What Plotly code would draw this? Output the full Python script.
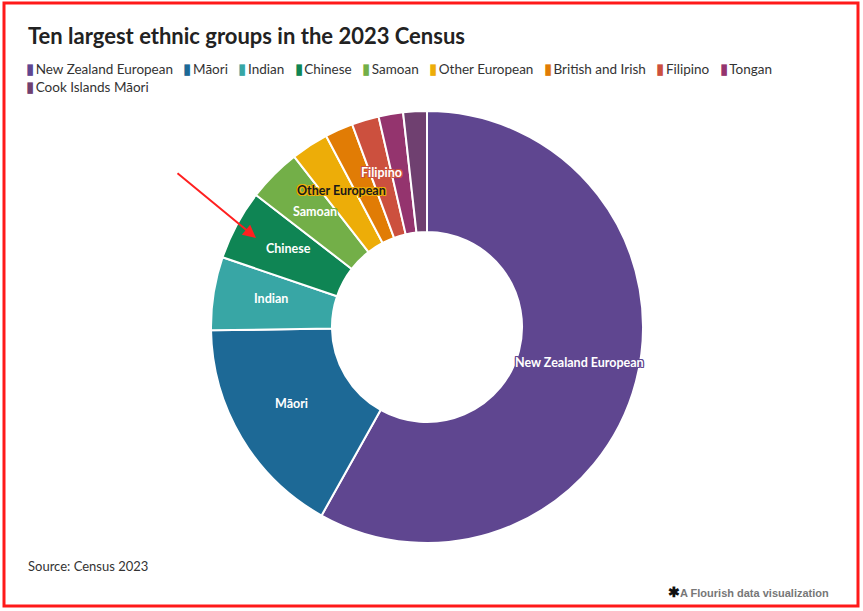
import math
import plotly.graph_objects as go

# ---- data ----
groups = ["New Zealand European", "Māori", "Indian", "Chinese", "Samoan",
          "Other European", "British and Irish", "Filipino", "Tongan", "Cook Islands Māori"]
counts = [3099858, 887493, 292092, 279039, 213069, 150000, 112000, 108297, 97824, 94176]
colors = ["#5F4690", "#1D6996", "#38A6A5", "#0F8554", "#73AF48",
          "#EDAD08", "#E17C05", "#CC503E", "#94346E", "#6F4070"]
shown_labels = ["New Zealand European", "Māori", "Indian", "Chinese", "Samoan",
                "Other European", "Filipino"]
dark_text_labels = ["Other European"]

W, H = 863, 611
CX, CY, R = 427, 327, 216
HOLE = 0.44

fig = go.Figure()
fig.add_trace(go.Pie(
    labels=groups, values=counts, sort=False, direction="clockwise", rotation=0,
    hole=HOLE, textinfo="none", showlegend=False,
    marker=dict(colors=colors, line=dict(color="white", width=2)),
    domain=dict(x=[(CX - R) / W, (CX + R) / W], y=[1 - (CY + R) / H, 1 - (CY - R) / H]),
    hoverinfo="label+value",
))

annotations = []
# slice labels at mid radius
total = sum(counts)
cum = 0
rmid = R * (1 + HOLE) / 2 + 2
for g, v, c in zip(groups, counts, colors):
    a0 = cum / total * 360
    cum += v
    a1 = cum / total * 360
    if g in shown_labels:
        am = math.radians((a0 + a1) / 2)
        px = CX + rmid * math.sin(am)
        py = CY - rmid * math.cos(am)
        tc = "#1a1a1a" if g in dark_text_labels else "white"
        sh = ", ".join(f"{dx}px {dy}px 0 {c}" for dx in (-1, 0, 1) for dy in (-1, 0, 1) if dx or dy)
        annotations.append(dict(
            x=px / W, y=1 - py / H, xref="paper", yref="paper", text=f"<b>{g}</b>",
            showarrow=False, yshift=4, xanchor="center", yanchor="middle",
            font=dict(family="Lato, sans-serif", size=12.5, color=tc, shadow=sh),
        ))

# legend built as text
items = []
for i, (g, c) in enumerate(zip(groups, colors)):
    items.append(f'<span style="color:{c};font-size:15px">▮</span>\u2009{g}')
line1 = "\u00a0\u00a0\u00a0".join(items[:9])
line2 = items[9]
annotations.append(dict(
    x=24 / W, y=1 - 57 / H, xref="paper", yref="paper", xanchor="left", yanchor="top",
    text=line1 + "<br>" + line2, align="left", showarrow=False,
    font=dict(family="Lato, sans-serif", size=13.5, color="#333333"),
))

# title
annotations.append(dict(
    x=26 / W, y=1 - 35 / H, xref="paper", yref="paper", xanchor="left", yanchor="middle",
    text="<b>Ten largest ethnic groups in the 2023 Census</b>", showarrow=False,
    font=dict(family="Lato, sans-serif", size=22, color="#222222"),
))
# source
annotations.append(dict(
    x=26 / W, y=1 - 566 / H, xref="paper", yref="paper", xanchor="left", yanchor="middle",
    text="Source: Census 2023", showarrow=False,
    font=dict(family="Lato, sans-serif", size=13, color="#333333"),
))
# flourish credit
annotations.append(dict(
    x=831 / W, y=1 - 592 / H, xref="paper", yref="paper", xanchor="right", yanchor="middle",
    text='<span style="color:#111;font-size:14px"><b>✱</b></span><b>A Flourish data visualization</b>',
    showarrow=False,
    font=dict(family="Liberation Sans Narrow, Arial Narrow, sans-serif", size=11, color="#777777"),
))
# red arrow
annotations.append(dict(
    x=256 / W, y=1 - 238 / H, xref="paper", yref="paper",
    ax=-80, ay=-66, showarrow=True, arrowhead=2, arrowsize=1.3, arrowwidth=2,
    arrowcolor="#ff2020", text="",
))

fig.update_layout(
    width=W, height=H, margin=dict(l=0, r=0, t=0, b=0),
    paper_bgcolor="white", plot_bgcolor="white",
    annotations=annotations,
    shapes=[dict(type="rect", xref="paper", yref="paper",
                 x0=4 / W, x1=858 / W, y0=1 - 606 / H, y1=1 - 3 / H,
                 line=dict(color="#ff1a1a", width=3))],
)
fig.write_html("out.html", config={"displayModeBar": False},
               post_script="document.body.style.margin='0';document.body.style.overflow='hidden';")
